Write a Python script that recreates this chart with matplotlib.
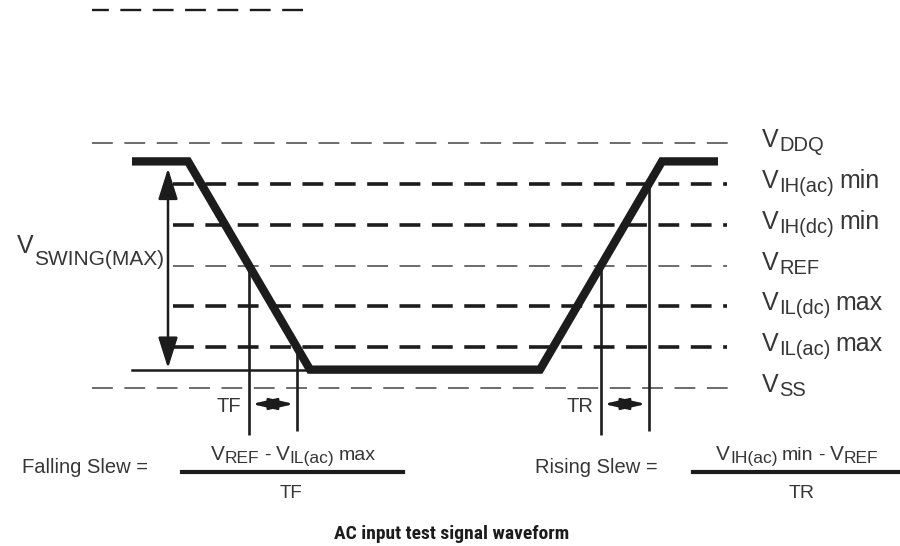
import numpy as np
import matplotlib
matplotlib.use('Agg')
import matplotlib.pyplot as plt
from matplotlib import font_manager

plt.rcParams['font.family'] = ['Liberation Sans', 'DejaVu Sans']
plt.rcParams['lines.scale_dashes'] = False

# Voltage levels (in "level" units, VSS = 0, evenly spaced up to VDDQ)
level_subs = ['SS', 'IL(ac)', 'IL(dc)', 'REF', 'IH(dc)', 'IH(ac)', 'DDQ']
level_tails = ['', 'max', 'max', '', 'min', 'min', '']
level_values = [0, 1, 2, 3, 4, 5, 6]
level_kind = ['rail', 'limit', 'limit', 'ref', 'limit', 'limit', 'rail']

# Input waveform (time, level)
wave_t = [132, 188, 310, 540, 662, 718]
wave_v = [5.55, 5.55, 0.45, 0.45, 5.55, 5.55]

# pixel helpers (figure is 900 x 546 px)
PX_LEVEL = 40.83
ZERO_PX = 388


def py(px):
    return (ZERO_PX - px) / PX_LEVEL


def px(v):
    return ZERO_PX - v * PX_LEVEL


INK = '#1c1c1c'
TXT = '#363636'

fig = plt.figure(figsize=(9, 5.46), dpi=100)
renderer = fig.canvas.get_renderer()
ax = fig.add_axes([0, 0, 1, 1])
ax.set_xlim(0, 900)
ax.set_ylim(py(546), py(0))
ax.axis('off')

# annotation layer in pixel coordinates
ann = fig.add_axes([0, 0, 1, 1])
ann.set_xlim(0, 900)
ann.set_ylim(546, 0)
ann.axis('off')
ann.patch.set_alpha(0)


def compose(x, y, parts, ha='left', **kw):
    # parts: (text, size, drop in px, gap before in px); y is the baseline
    arts = []
    cx = x
    for s, size, dy, gap in parts:
        cx += gap
        t = ann.text(cx, y + dy, s, fontsize=size, color=TXT, ha='left', va='baseline', **kw)
        arts.append((t, cx))
        cx += t.get_window_extent(renderer).width
    if ha == 'center':
        shift = (cx - x) / 2
        for t, tx in arts:
            t.set_x(tx - shift)
    return arts


dash = (0, (15, 8.3))

# level lines and labels
for sub, tail, v, kind in zip(level_subs, level_tails, level_values, level_kind):
    if kind == 'rail':
        ax.plot([92, 730], [v, v], color='#444444', lw=1.1, linestyle=dash)
    elif kind == 'ref':
        ax.plot([173, 727], [v, v], color='#444444', lw=1.1, linestyle=dash)
    else:
        ax.plot([173, 727], [v, v], color=INK, lw=2.6, linestyle=dash)
    parts = [('V', 18, 0, 0), (sub, 14.5, 4, 0.5)]
    if tail:
        parts.append((tail, 18, 0, 5))
    compose(762, px(v) + 4, parts)

# stray dashes at the top (drawn right to left so the right end is a full dash)
ann.plot([303, 92], [10, 10], color=INK, lw=1.7, linestyle=(0, (15, 8.3)))

# waveform
ax.plot(wave_t, wave_v, color=INK, lw=6, solid_joinstyle='miter', solid_capstyle='butt')
ax.plot([wave_t[0], wave_t[2]], [wave_v[2], wave_v[2]], color=INK, lw=1.8)

# swing arrow
ax.annotate('', xy=(168, wave_v[2]), xytext=(168, wave_v[0]),
            arrowprops=dict(arrowstyle='<|-|>,head_length=1.9,head_width=0.6', color=INK,
                            lw=1.8, shrinkA=5, shrinkB=1))
compose(17, 253, [('V', 18, 0, 0), ('SWING(MAX)', 15, 12, 0.5)])

# crossing points of the edges
lo, hi = wave_v[2], wave_v[0]
x_fall_ref = np.interp(level_values[3], [lo, hi], [wave_t[2], wave_t[1]])
x_fall_il = np.interp(level_values[1], [lo, hi], [wave_t[2], wave_t[1]])
x_rise_ref = np.interp(level_values[3], [lo, hi], [wave_t[3], wave_t[4]])
x_rise_ih = np.interp(level_values[5], [lo, hi], [wave_t[3], wave_t[4]])

ax.vlines([x_fall_ref, x_rise_ref], py(435), level_values[3], color=INK, lw=1.9)
ax.vlines([x_fall_il], py(431), level_values[1], color=INK, lw=1.9)
ax.vlines([x_rise_ih], py(431), level_values[5], color=INK, lw=1.9)

arrow_y = py(404)
for xa, xb in [(x_fall_ref, x_fall_il), (x_rise_ref, x_rise_ih)]:
    ax.annotate('', xy=(xb, arrow_y), xytext=(xa, arrow_y),
                arrowprops=dict(arrowstyle='<|-|>,head_length=1.5,head_width=0.35', color=INK,
                                lw=1.8, shrinkA=2, shrinkB=2))
ann.text(x_fall_ref - 8, 412, 'TF', fontsize=14.5, color=TXT, ha='right', va='baseline')
ann.text(x_rise_ref - 8, 412, 'TR', fontsize=14.5, color=TXT, ha='right', va='baseline')

# slew formulas
ann.text(22, 473, 'Falling Slew =', fontsize=14.5, color=TXT, ha='left', va='baseline')
ann.plot([182, 403], [472, 472], color=INK, lw=3)
compose(293, 460, [('V', 15, 0, 0), ('REF', 12.5, 3, 0.3), ('-', 14, 0, 5),
                   ('V', 15, 0, 5), ('IL(ac)', 12.5, 3, 0.3), ('max', 14, 0, 4)], ha='center')
ann.text(291, 498, 'TF', fontsize=13.5, color=TXT, ha='center', va='baseline')

ann.text(535, 473, 'Rising Slew =', fontsize=14.5, color=TXT, ha='left', va='baseline')
ann.plot([693, 900], [472, 472], color=INK, lw=3)
compose(797, 460, [('V', 15, 0, 0), ('IH(ac)', 12.5, 3, 0.3), ('min', 14, 0, 4),
                   ('-', 14, 0, 5), ('V', 15, 0, 5), ('REF', 12.5, 3, 0.3)], ha='center')
ann.text(802, 498, 'TR', fontsize=14, color=TXT, ha='center', va='baseline')

# caption: use a condensed bold face when one is installed
cap_family, cap_size = 'Liberation Sans', 11.5
for fam in ['Liberation Sans Narrow', 'Roboto Condensed', 'Open Sans Condensed']:
    try:
        font_manager.findfont(font_manager.FontProperties(family=fam), fallback_to_default=False)
        cap_family, cap_size = fam, 14
        break
    except ValueError:
        pass
ann.text(452, 539, 'AC input test signal waveform', fontsize=cap_size, fontweight='bold', color=INK,
         ha='center', va='baseline', family=cap_family)

fig.savefig('out.png', dpi=100)
